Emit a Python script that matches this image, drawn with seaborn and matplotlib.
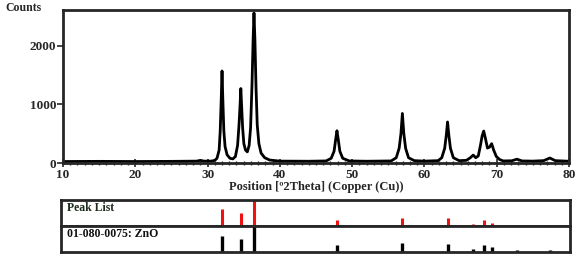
"""
Recreate the XRD pattern of ZnO with peak list and reference (01-080-0075) strips.
"""

import numpy as np
import pandas as pd
import matplotlib
matplotlib.use("Agg")
import matplotlib.pyplot as plt
from matplotlib.ticker import MultipleLocator
import seaborn as sns


# ---------------------------------------------------------------------------
# Data
# ---------------------------------------------------------------------------

# traced diffraction profile (2theta, counts)
two_theta = [
    10.0, 15.0, 20.0, 25.0, 28.5, 29.0, 29.5, 30.5, 31.0, 31.3,
    31.6, 31.75, 31.88, 32.0, 32.12, 32.25, 32.42, 32.7, 33.1, 33.5,
    33.85, 34.15, 34.35, 34.5, 34.6, 34.7, 34.85, 35.02, 35.25, 35.5,
    35.75, 35.95, 36.15, 36.3, 36.42, 36.55, 36.7, 36.87, 37.1, 37.4,
    37.9, 38.6, 40.0, 44.0, 46.4, 47.1, 47.5, 47.72, 47.9, 48.08,
    48.3, 48.7, 49.6, 52.0, 55.4, 56.1, 56.5, 56.75, 56.95, 57.15,
    57.4, 57.8, 58.6, 60.0, 61.9, 62.4, 62.8, 63.02, 63.2, 63.38,
    63.6, 64.0, 64.8, 65.8, 66.35, 66.75, 67.1, 67.45, 67.75, 67.98,
    68.2, 68.42, 68.72, 69.0, 69.3, 69.58, 69.95, 70.4, 70.9, 72.1,
    72.8, 73.5, 75.0, 76.5, 77.35, 78.1, 80.0,
]
counts = [
    25, 28, 25, 28, 32, 45, 32, 32, 45, 80,
    220, 550, 1050, 1570, 1050, 550, 280, 140, 80, 70,
    110, 300, 650, 1000, 1270, 1000, 600, 330, 220, 190,
    300, 600, 1350, 2100, 2560, 2100, 1300, 650, 330, 170,
    90, 50, 32, 30, 35, 80, 200, 400, 550, 400,
    200, 80, 35, 30, 35, 90, 250, 500, 845, 500,
    250, 90, 40, 32, 40, 90, 250, 470, 700, 470,
    250, 90, 40, 45, 90, 135, 90, 120, 300, 460,
    545, 430, 255, 270, 330, 220, 110, 60, 35, 38,
    65, 35, 32, 40, 85, 40, 30,
]

# stick positions shared by peak list and reference pattern
peak_pos = [32.0, 34.6, 36.42, 47.9, 56.95, 63.2, 66.75, 68.2, 69.3, 72.8, 77.35]
peak_list_rel = [64, 51, 100, 23, 32, 30, 7, 23, 13, 4, 5]
zno_ref_rel = [62, 49, 100, 26, 36, 29, 10, 26, 18, 8, 8]

x_ticks = [10, 20, 30, 40, 50, 60, 70, 80]
y_ticks = [0, 1000, 2000]


# ---------------------------------------------------------------------------
# Figure
# ---------------------------------------------------------------------------

sns.set_style("ticks")
plt.rcParams["font.family"] = ["Liberation Serif", "DejaVu Serif"]
plt.rcParams["font.weight"] = "bold"

W, H = 578, 256
fig = plt.figure(figsize=(W / 100, H / 100), dpi=100)

def px_axes(left, top, right, bottom):
    return fig.add_axes([left / W, 1 - bottom / H, (right - left) / W, (bottom - top) / H])

ax = px_axes(63, 10, 569, 163)
profile = pd.DataFrame({"two_theta": two_theta, "counts": counts})
sns.lineplot(data=profile, x="two_theta", y="counts", color="black", lw=2.0, ax=ax)

ax.set_xlim(10, 80)
ax.set_ylim(0, 2610)
ax.set_xticks(x_ticks)
ax.set_yticks(y_ticks)
ax.xaxis.set_minor_locator(MultipleLocator(1))
ax.tick_params(axis="x", which="major", direction="inout", length=6, width=1.2,
               labelsize=9.5, pad=1)
ax.tick_params(axis="x", which="minor", direction="inout", length=3, width=1)
ax.tick_params(axis="y", which="major", direction="out", length=4, width=1.2,
               labelsize=9.5, pad=1)
for lab in ax.get_xticklabels() + ax.get_yticklabels():
    lab.set_fontweight("bold")
for sp in ax.spines.values():
    sp.set_visible(True)
    sp.set_linewidth(2)
ax.set_xlabel("Position [\u00ba2Theta] (Copper (Cu))", fontsize=9, fontweight="bold",
              labelpad=0)
ax.set_ylabel("")
fig.text(5 / W, 1 - 8 / H, "Counts", fontsize=8.5, fontweight="bold", va="center", ha="left")

# peak list strip
ax_pl = px_axes(61, 200, 570, 226)
ax_pl.vlines(peak_pos, 0, peak_list_rel, color="#ee1111", lw=2.2)
ax_pl.text(0.012, 0.93, "Peak List", transform=ax_pl.transAxes, fontsize=8.5,
           fontweight="bold", color="#1c2b1c", va="top", ha="left")

# reference pattern strip
ax_ref = px_axes(61, 226, 570, 252)
ax_ref.vlines(peak_pos, 0, zno_ref_rel, color="black", lw=2.4)
ax_ref.text(0.012, 0.93, "01-080-0075: ZnO", transform=ax_ref.transAxes, fontsize=8.5,
            fontweight="bold", color="#111111", va="top", ha="left")

for strip in (ax_pl, ax_ref):
    strip.set_xlim(9.72, 80.14)
    strip.set_ylim(0, 100)
    strip.set_xticks([])
    strip.set_yticks([])
    for sp in strip.spines.values():
        sp.set_visible(True)
        sp.set_linewidth(2)

fig.savefig("out.png", dpi=100)
plt.close(fig)
